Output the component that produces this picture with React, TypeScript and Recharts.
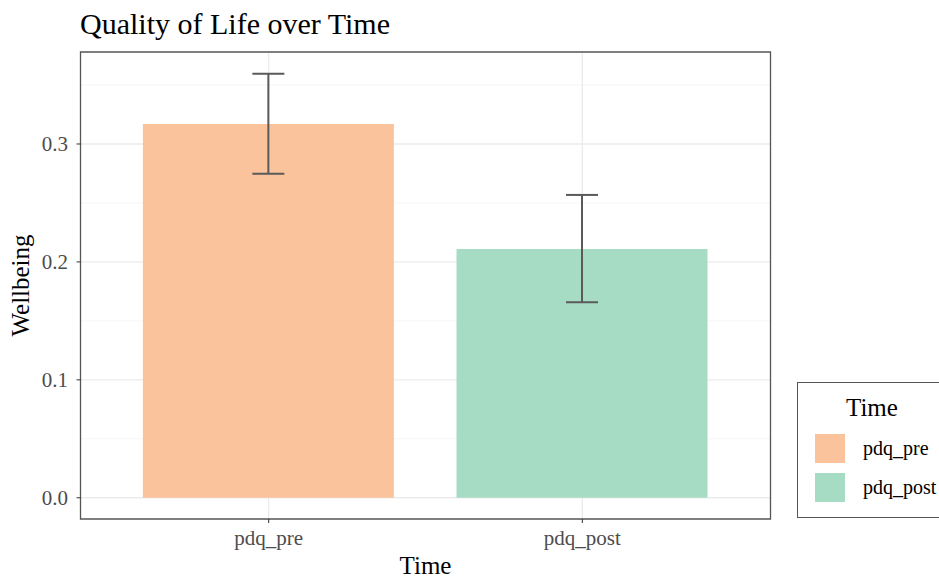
import React from 'react';
import { ComposedChart, Bar, XAxis, YAxis, CartesianGrid, ErrorBar, Cell, ReferenceArea } from 'recharts';

const categories = ['pdq_pre', 'pdq_post'];
const means = [0.317, 0.211];
const lows = [0.2748, 0.1658];
const highs = [0.3595, 0.2568];
const colors = ['#FBC39C', '#A6DCC4'];
const yTicks = [0, 0.1, 0.2, 0.3];
const yMinor = [0.05, 0.15, 0.25, 0.35];
const yDomain = [-0.018, 0.378];
const xPositions = [1, 2];
const xDomain = [0.4, 2.6];

const data = categories.map((c, i) => ({
  name: c,
  pos: xPositions[i],
  mean: means[i],
  err: [means[i] - lows[i], highs[i] - means[i]],
}));

const FONT = '"Liberation Serif", "Times New Roman", serif';

const YLabel = (props: any) => {
  const vb = props.viewBox || {};
  const cy = vb.y + vb.height / 2;
  return (
    <text x={29} y={cy} transform={`rotate(-90, 29, ${cy})`} textAnchor="middle" fontSize={25} fontFamily={FONT} fill="#000">
      Wellbeing
    </text>
  );
};

const XLabel = (props: any) => {
  const vb = props.viewBox || {};
  const cx = vb.x + vb.width / 2;
  return (
    <text x={cx} y={574} textAnchor="middle" fontSize={25} fontFamily={FONT} fill="#000">
      Time
    </text>
  );
};

export default function App() {
  return (
    <div style={{ position: 'fixed', left: 0, top: 0, width: 939, height: 578, overflow: 'hidden', background: '#fff', fontFamily: FONT }}>
      <div style={{ position: 'absolute', left: 80, top: 9, fontSize: 30, lineHeight: '30px', color: '#000', whiteSpace: 'nowrap' }}>
        Quality of Life over Time
      </div>
      <ComposedChart width={939} height={578} data={data} margin={{ top: 52, right: 168.5, bottom: 0, left: 0 }}>
        <CartesianGrid horizontalValues={yMinor} vertical={false} stroke="#F3F3F3" strokeWidth={0.8} />
        <CartesianGrid horizontalValues={yTicks} verticalValues={xPositions} stroke="#EBEBEB" strokeWidth={1.3} />
        <XAxis
          dataKey="pos"
          type="number"
          domain={xDomain}
          ticks={xPositions}
          allowDataOverflow
          tickFormatter={(v: number) => categories[xPositions.indexOf(v)] ?? ''}
          height={59}
          axisLine={false}
          tickLine={{ stroke: '#333333' }}
          tickSize={4}
          tickMargin={7}
          tick={{ fontSize: 21, fill: '#4D4D4D', fontFamily: FONT }}
          label={<XLabel />}
        />
        <YAxis
          type="number"
          domain={yDomain}
          ticks={yTicks}
          allowDataOverflow
          width={80.5}
          axisLine={false}
          tickLine={{ stroke: '#333333' }}
          tickSize={4}
          tickMargin={8.5}
          tickFormatter={(v: number) => v.toFixed(1)}
          tick={{ fontSize: 21, fill: '#4D4D4D', fontFamily: FONT }}
          label={<YLabel />}
        />
        <Bar dataKey="mean" barSize={251} isAnimationActive={false}>
          {data.map((d, i) => (
            <Cell key={d.name} fill={colors[i]} />
          ))}
          <ErrorBar dataKey="err" width={16} stroke="#5A5A5A" strokeWidth={2} direction="y" />
        </Bar>
        <ReferenceArea x1={xDomain[0]} x2={xDomain[1]} y1={yDomain[0]} y2={yDomain[1]} fill="none" fillOpacity={0} stroke="#555555" strokeWidth={1.3} ifOverflow="visible" />
      </ComposedChart>
      <div style={{ position: 'absolute', left: 797, top: 382, width: 160, height: 136, border: '1.5px solid #555', boxSizing: 'border-box' }}>
        <div style={{ position: 'absolute', left: 48, top: 10, fontSize: 25, lineHeight: '30px', color: '#000' }}>Time</div>
        {categories.map((c, i) => (
          <div key={c} style={{ position: 'absolute', left: 17, top: 50 + i * 39.5, height: 30, display: 'flex', alignItems: 'center' }}>
            <div style={{ width: 30, height: 29, background: colors[i] }} />
            <div style={{ marginLeft: 18, fontSize: 20, color: '#000', whiteSpace: 'nowrap' }}>{c}</div>
          </div>
        ))}
      </div>
    </div>
  );
}
